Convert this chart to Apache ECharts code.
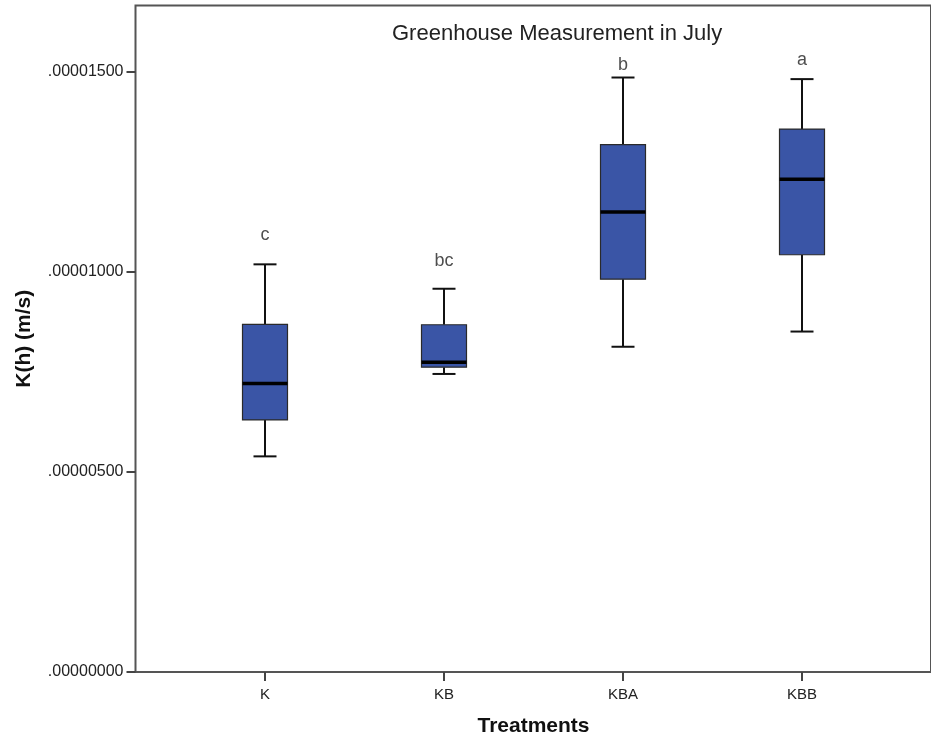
<!DOCTYPE html>
<html>
<head>
<meta charset="utf-8">
<title>Greenhouse Measurement in July</title>
<script src="https://cdn.jsdelivr.net/npm/echarts@6/dist/echarts.min.js"></script>
<style>
  html, body { margin: 0; padding: 0; background: #fff; }
  #chart { width: 931px; height: 744px; }
</style>
</head>
<body>
<div id="chart"></div>
<script>
// Treatment groups on the horizontal axis
const treatments = ['K', 'KB', 'KBA', 'KBB'];

// Five-number summaries of K(h) in m/s for each treatment
const whiskerLow  = [0.00000539, 0.00000745, 0.00000813, 0.00000851];
const quartile1   = [0.00000630, 0.00000762, 0.00000982, 0.00001043];
const medians     = [0.00000721, 0.00000774, 0.00001150, 0.00001232];
const quartile3   = [0.00000869, 0.00000868, 0.00001318, 0.00001357];
const whiskerHigh = [0.00001019, 0.00000958, 0.00001486, 0.00001482];

// Post-hoc group letters and the value level each letter sits at
const groupLetters = ['c', 'bc', 'b', 'a'];
const letterLevel  = [0.00001092, 0.00001028, 0.00001518, 0.00001530];

// Y axis ticks
const yTicks = [0, 0.000005, 0.00001, 0.000015];
const yMax = 0.00001666;

const boxRows = treatments.map((t, i) => [i, whiskerLow[i], quartile1[i], medians[i], quartile3[i], whiskerHigh[i]]);
const letterRows = treatments.map((t, i) => ({ value: [i, letterLevel[i]], name: groupLetters[i] }));

const FONT = 'Arial, "Liberation Sans", sans-serif';
const BOX_HALF = 22.5;
const CAP_HALF = 11.5;

function renderBox(params, api) {
  const i = api.value(0);
  const pLow = api.coord([i, api.value(1)]);
  const pQ1 = api.coord([i, api.value(2)]);
  const pMed = api.coord([i, api.value(3)]);
  const pQ3 = api.coord([i, api.value(4)]);
  const pHigh = api.coord([i, api.value(5)]);
  const x = pMed[0];
  const whisker = { stroke: '#111', lineWidth: 2 };
  return {
    type: 'group',
    children: [
      { type: 'line', shape: { x1: x, y1: pQ3[1], x2: x, y2: pHigh[1] }, style: whisker },
      { type: 'line', shape: { x1: x - CAP_HALF, y1: pHigh[1], x2: x + CAP_HALF, y2: pHigh[1] }, style: whisker },
      { type: 'line', shape: { x1: x, y1: pQ1[1], x2: x, y2: pLow[1] }, style: whisker },
      { type: 'line', shape: { x1: x - CAP_HALF, y1: pLow[1], x2: x + CAP_HALF, y2: pLow[1] }, style: whisker },
      {
        type: 'rect',
        shape: { x: x - BOX_HALF, y: pQ3[1], width: BOX_HALF * 2, height: pQ1[1] - pQ3[1] },
        style: { fill: '#3A55A6', stroke: '#2a2a2a', lineWidth: 1.2 }
      },
      { type: 'line', shape: { x1: x - BOX_HALF, y1: pMed[1], x2: x + BOX_HALF, y2: pMed[1] }, style: { stroke: '#000', lineWidth: 3.5 } }
    ]
  };
}

const chart = echarts.init(document.getElementById('chart'), null, { renderer: 'canvas' });

chart.setOption({
  animation: false,
  backgroundColor: '#fff',
  title: {
    text: 'Greenhouse Measurement in July',
    left: 387,
    top: 18,
    textStyle: { fontFamily: FONT, fontSize: 22, fontWeight: 'normal', color: '#222' }
  },
  grid: [
    // plotting area for the boxes
    { left: 175.5, right: 39.5, top: 5.5, bottom: 72, containLabel: false },
    // frame around the plotting area
    { left: 135.5, right: -20, top: 5.5, bottom: 72, show: true, borderColor: '#555', borderWidth: 2, backgroundColor: 'transparent' }
  ],
  xAxis: [
    {
      gridIndex: 0,
      type: 'category',
      data: treatments,
      boundaryGap: true,
      axisLine: { show: false },
      axisTick: { show: true, alignWithLabel: true, length: 9, lineStyle: { color: '#444', width: 2 } },
      axisLabel: { margin: 15, fontFamily: FONT, fontSize: 15, color: '#222' },
      name: 'Treatments',
      nameLocation: 'middle',
      nameGap: 44,
      nameTextStyle: { fontFamily: FONT, fontSize: 21, fontWeight: 'bold', color: '#111' }
    },
    { gridIndex: 1, type: 'value', show: false, min: 0, max: 1 }
  ],
  yAxis: [
    {
      gridIndex: 0,
      type: 'value',
      min: 0,
      max: yMax,
      offset: 40,
      splitLine: { show: false },
      axisLine: { show: false },
      axisTick: { show: true, length: 9, lineStyle: { color: '#444', width: 2 }, customValues: yTicks },
      axisLabel: {
        margin: 12,
        fontFamily: FONT,
        fontSize: 16,
        color: '#222',
        customValues: yTicks,
        formatter: v => v.toFixed(8).replace(/^0/, '')
      },
      name: 'K(h) (m/s)',
      nameLocation: 'middle',
      nameRotate: 90,
      nameGap: 101,
      nameTextStyle: { fontFamily: FONT, fontSize: 21, fontWeight: 'bold', color: '#111' }
    },
    { gridIndex: 1, type: 'value', show: false, min: 0, max: 1 }
  ],
  series: [
    {
      type: 'custom',
      xAxisIndex: 0,
      yAxisIndex: 0,
      data: boxRows,
      encode: { x: 0, y: [1, 2, 3, 4, 5] },
      renderItem: renderBox,
      z: 3
    },
    {
      type: 'scatter',
      xAxisIndex: 0,
      yAxisIndex: 0,
      data: letterRows,
      symbolSize: 1,
      itemStyle: { color: 'rgba(0,0,0,0)' },
      label: {
        show: true,
        position: 'inside',
        formatter: p => p.name,
        fontFamily: FONT,
        fontSize: 18,
        color: '#222'
      },
      z: 4
    }
  ]
});
</script>
</body>
</html>
